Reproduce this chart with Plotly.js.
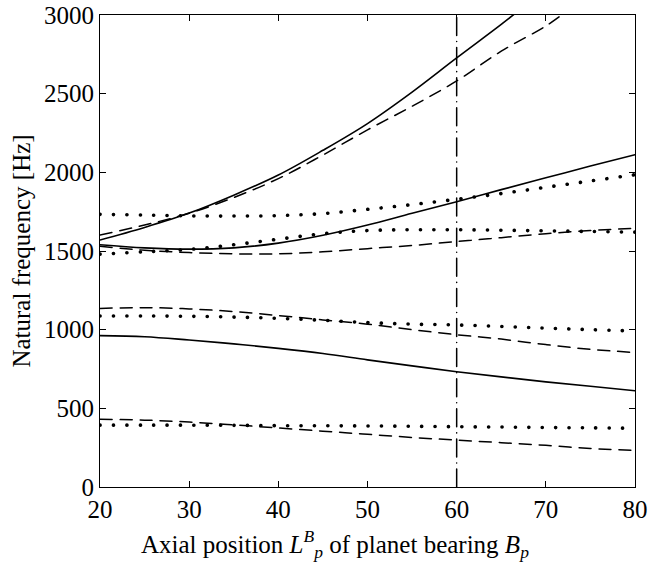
<!DOCTYPE html>
<html><head><meta charset="utf-8">
<script src="https://cdn.plot.ly/plotly-3.0.1.min.js"></script>
<style>
body{margin:0;background:#fff;}
#plot{width:649px;height:564px;}
.scatterlayer .js-line{stroke-linecap:round;}
</style></head><body>
<div id="plot"></div>
<script>
const xPos = [20,25,30,35,40,45,50,55,60,65,70,75,80];
const xA = [20,25,30,35,40,45,50,55,60,65,67];
const solidA = [1570,1650,1741,1855,1983,2140,2310,2510,2727,2940,3030];
const xDA = [20,25,30,35,40,45,50,55,60,65,70,72];
const dashedA = [1602,1665,1740,1840,1960,2110,2270,2420,2581,2770,2930,3010];
const solidB = [1540,1520,1512,1520,1550,1600,1665,1740,1813,1890,1965,2040,2112];
const dashedB = [1530,1505,1490,1482,1482,1495,1515,1535,1560,1585,1610,1630,1645];
const dotted1 = [1733,1728,1723,1722,1725,1738,1765,1795,1829,1865,1905,1945,1985];
const dotted2 = [1480,1495,1510,1540,1575,1610,1630,1635,1635,1632,1628,1624,1620];
const dashedC = [1135,1140,1132,1115,1090,1062,1035,1000,968,940,905,875,855];
const dotted3 = [1087,1087,1085,1080,1072,1060,1045,1035,1030,1020,1010,1000,992];
const solidC = [962,955,934,910,881,848,808,770,733,700,668,640,612];
const dashedE = [430,425,413,395,375,355,335,315,298,282,265,245,232];
const dotted5 = [393,393,393,392,390,389,388,386,383,381,378,376,373];
const refX = [60,60];
const refY = [0,3000];
const xTicks = [20,30,40,50,60,70,80];
const yTicks = [0,500,1000,1500,2000,2500,3000];
const xTitle = 'Axial position <i>L</i><sup><i>B</i></sup><sub><i>p</i></sub> of planet bearing <i>B</i><sub><i>p</i></sub>';
const yTitle = 'Natural frequency [Hz]';

const solid = {color:'#000',width:1.6,shape:'spline',smoothing:1};
const dashed = {color:'#000',width:1.5,dash:'12px,8px',shape:'spline',smoothing:1};
const dotted = {color:'#000',width:3.6,dash:'0.1px,13.3px',shape:'spline',smoothing:1};
function tr(x,y,line){return {x:x,y:y,mode:'lines',line:line,hoverinfo:'skip',showlegend:false};}
const traces = [
  tr(xA,solidA,solid),
  tr(xDA,dashedA,dashed),
  tr(xPos,solidB,solid),
  tr(xPos,dashedB,dashed),
  tr(xPos,dotted1,dotted),
  tr(xPos,dotted2,dotted),
  tr(xPos,dashedC,dashed),
  tr(xPos,dotted3,dotted),
  tr(xPos,solidC,solid),
  tr(xPos,dashedE,dashed),
  tr(xPos,dotted5,dotted),
  tr(refX,refY,{color:'#000',width:1.5,dash:'18px,6px,0.1px,6px'})
];
const font = {family:'"Liberation Serif", "Times New Roman", serif',size:25,color:'#000'};
const axisCommon = {showgrid:false,zeroline:false,showline:true,linecolor:'#000',linewidth:1,
  mirror:'ticks',ticks:'inside',ticklen:6,tickcolor:'#000',tickwidth:1,tickfont:font};
const layout = {
  width:649,height:564,
  margin:{l:100,r:14,t:15,b:77},
  paper_bgcolor:'#fff',plot_bgcolor:'#fff',
  font:font,showlegend:false,
  xaxis:Object.assign({},axisCommon,{range:[20,80],tickvals:xTicks}),
  yaxis:Object.assign({},axisCommon,{range:[0,3000],tickvals:yTicks,
    title:{text:yTitle,font:font,standoff:6}}),
  annotations:[{text:xTitle,xref:'paper',yref:'paper',x:0.439,y:-0.121,
    xanchor:'center',yanchor:'middle',showarrow:false,font:font}]
};
Plotly.newPlot('plot',traces,layout,{staticPlot:true});
</script></body></html>
